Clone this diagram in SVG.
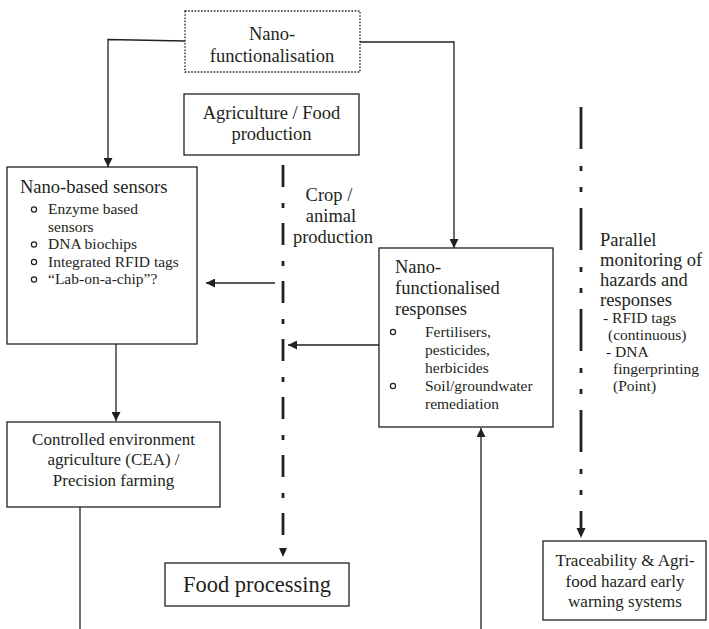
<svg xmlns="http://www.w3.org/2000/svg" width="709" height="629" viewBox="0 0 709 629">
  <style>
    text { font-family: "Liberation Serif", "Times New Roman", serif; fill: #231f20; }
    .t { font-size: 18.5px; }
    .s { font-size: 15.5px; }
    .m { font-size: 17px; }
    .c { text-anchor: middle; }
    .box { fill: #ffffff; stroke: #231f20; stroke-width: 1.3; }
    .dotbox { fill: #ffffff; stroke: #231f20; stroke-width: 1.3; stroke-dasharray: 1.6 1.6; }
    .wire { fill: none; stroke: #231f20; stroke-width: 1.3; }
    .flow { fill: none; stroke: #231f20; stroke-width: 2.8; }
    .bullet { fill: none; stroke: #231f20; stroke-width: 1.2; }
    .head { fill: #231f20; }
  </style>
  <defs>
    <marker id="arrow" markerUnits="userSpaceOnUse" markerWidth="10" markerHeight="9" refX="9" refY="4.5" orient="auto">
      <path d="M0,0 L9,4.5 L0,9 z" fill="#231f20"/>
    </marker>
  </defs>

  <!-- connectors -->
  <g id="connectors">
    <path class="wire" d="M185,41 L108,39.5 V167" marker-end="url(#arrow)"/>
    <path class="wire" d="M360,42 H454 V248" marker-end="url(#arrow)"/>
    <path class="wire" d="M116,344 V421" marker-end="url(#arrow)"/>
    <path class="wire" d="M275,283 H206" marker-end="url(#arrow)"/>
    <path class="wire" d="M379,345 H288" marker-end="url(#arrow)"/>
    <path class="wire" d="M481,629 V428" marker-end="url(#arrow)"/>
    <path class="wire" d="M80,507 V629"/>
    <!-- production chain (dash-dot) -->
    <line class="flow" x1="283" y1="165" x2="283" y2="540" stroke-dasharray="22 16 5 15"/>
    <polygon class="head" points="279,548 287,548 283,557"/>
    <!-- parallel monitoring (dash-dot-dot) -->
    <line class="flow" x1="581" y1="107" x2="581" y2="530" stroke-dasharray="42 17 5 16 5 16"/>
    <polygon class="head" points="576.5,528 585.5,528 581,538"/>
  </g>

  <g id="nano-functionalisation">
    <rect class="dotbox" x="185" y="11" width="175" height="61"/>
    <text class="t c" x="272" y="40">Nano-</text>
    <text class="t c" x="272" y="62">functionalisation</text>
  </g>

  <g id="agriculture">
    <rect class="box" x="184" y="94" width="175" height="61"/>
    <text class="t c" x="271.5" y="119">Agriculture / Food</text>
    <text class="t c" x="271.5" y="140">production</text>
  </g>

  <g id="crop-label">
    <text class="t c" x="329" y="201">Crop /</text>
    <text class="t c" x="331" y="222">animal</text>
    <text class="t c" x="333" y="243">production</text>
  </g>

  <g id="nano-sensors">
    <rect class="box" x="7" y="167" width="190" height="177"/>
    <text class="t" x="20" y="193">Nano-based sensors</text>
    <circle class="bullet" cx="34" cy="209.5" r="2.6"/>
    <text class="s" x="48" y="214">Enzyme based</text>
    <text class="s" x="48" y="231.5">sensors</text>
    <circle class="bullet" cx="34" cy="244.5" r="2.6"/>
    <text class="s" x="48" y="249">DNA biochips</text>
    <circle class="bullet" cx="34" cy="262" r="2.6"/>
    <text class="s" x="48" y="266.5">Integrated RFID tags</text>
    <circle class="bullet" cx="34" cy="279.5" r="2.6"/>
    <text class="s" x="48" y="284">“Lab-on-a-chip”?</text>
  </g>

  <g id="nano-responses">
    <rect class="box" x="379" y="248" width="174" height="179"/>
    <text class="t" x="395" y="273">Nano-</text>
    <text class="t" x="395" y="294">functionalised</text>
    <text class="t" x="395" y="315">responses</text>
    <circle class="bullet" cx="393" cy="332" r="2.6"/>
    <text class="s" x="425" y="336.5">Fertilisers,</text>
    <text class="s" x="425" y="354.5">pesticides,</text>
    <text class="s" x="425" y="372.5">herbicides</text>
    <circle class="bullet" cx="393" cy="386" r="2.6"/>
    <text class="s" x="425" y="390.5">Soil/groundwater</text>
    <text class="s" x="425" y="408.5">remediation</text>
  </g>

  <g id="parallel-monitoring">
    <text class="t" x="600" y="246">Parallel</text>
    <text class="t" x="600" y="266">monitoring of</text>
    <text class="t" x="600" y="286">hazards and</text>
    <text class="t" x="600" y="306">responses</text>
    <text class="s" x="603" y="323">-  RFID tags</text>
    <text class="s" x="608" y="340">(continuous)</text>
    <text class="s" x="606" y="357">- DNA</text>
    <text class="s" x="613" y="374">fingerprinting</text>
    <text class="s" x="613" y="391">(Point)</text>
  </g>

  <g id="cea">
    <rect class="box" x="7" y="422" width="213" height="85"/>
    <text class="m c" x="113.5" y="444.5">Controlled environment</text>
    <text class="m c" x="113.5" y="465">agriculture (CEA) /</text>
    <text class="m c" x="113.5" y="485.5">Precision farming</text>
  </g>

  <g id="food-processing">
    <rect class="box" x="165" y="563" width="184" height="43"/>
    <text class="c" x="257" y="592" style="font-size:22.5px">Food processing</text>
  </g>

  <g id="traceability">
    <rect class="box" x="543" y="541" width="163" height="79"/>
    <text class="m c" x="625" y="566">Traceability &amp; Agri-</text>
    <text class="m c" x="625" y="586.5">food hazard early</text>
    <text class="m c" x="625" y="607">warning systems</text>
  </g>
</svg>
